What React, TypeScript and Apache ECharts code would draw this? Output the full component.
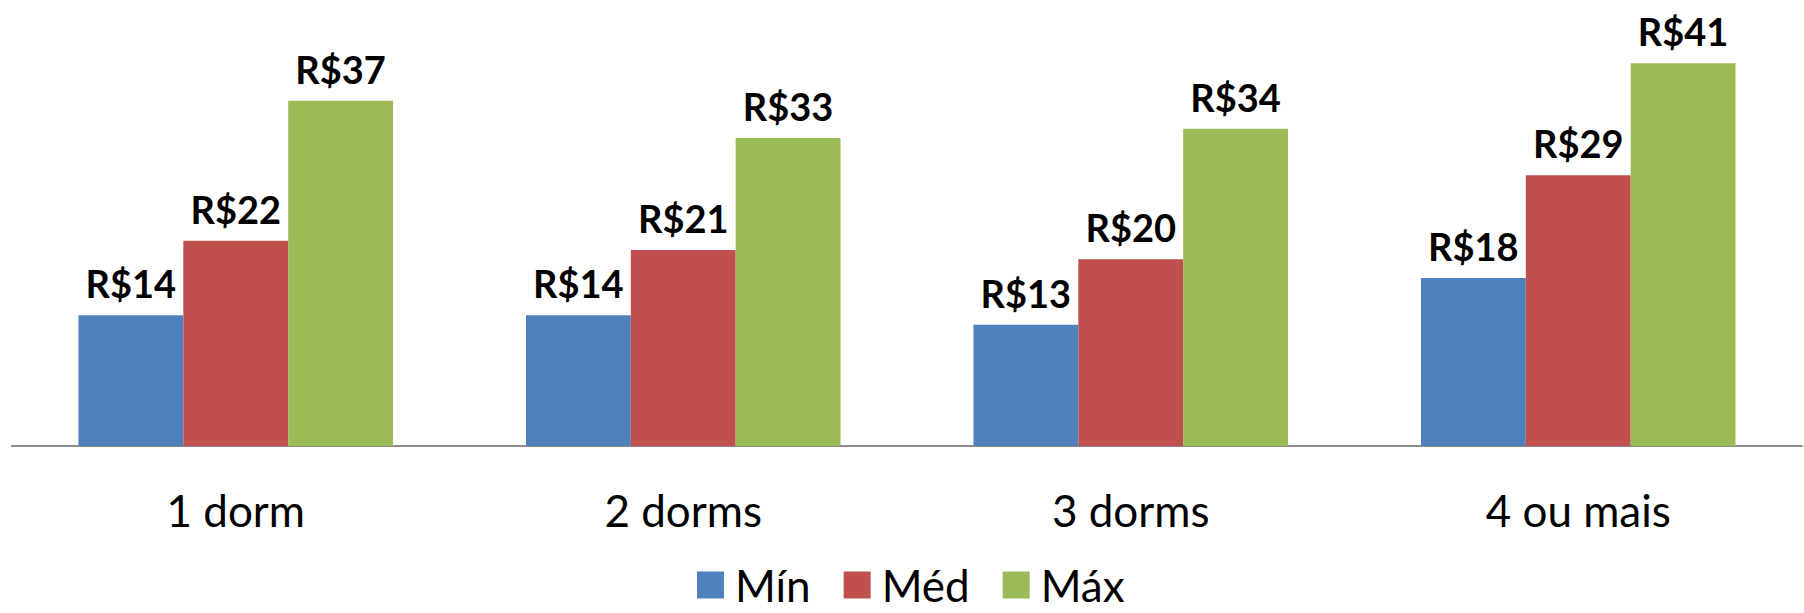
import React, { useEffect, useRef } from "react";
import * as echarts from "echarts";

const categories = ["1 dorm", "2 dorms", "3 dorms", "4 ou mais"];
const seriesNames = ["Mín", "Méd", "Máx"];
const minValues = [14, 14, 13, 18];
const medValues = [22, 21, 20, 29];
const maxValues = [37, 33, 34, 41];
const seriesColors = ["#4F81BD", "#C0504D", "#9BBB59"];

const FONT = "Lato, 'Open Sans', sans-serif";

export default function App() {
  const ref = useRef<HTMLDivElement>(null);

  useEffect(() => {
    if (!ref.current) return;
    const chart = echarts.init(ref.current, undefined, { renderer: "svg" });
    const values = [minValues, medValues, maxValues];

    chart.setOption({
      animation: false,
      backgroundColor: "#ffffff",
      textStyle: { fontFamily: FONT },
      grid: { left: 12, right: 2, top: 26, bottom: 167, containLabel: false },
      legend: {
        bottom: 1,
        left: 692,
        itemWidth: 27,
        itemHeight: 27,
        itemGap: 33,
        icon: "rect",
        textStyle: {
          fontFamily: FONT,
          fontSize: 44,
          lineHeight: 36,
          color: "#000000",
          padding: [0, 0, 0, 6],
        },
        data: seriesNames,
      },
      xAxis: {
        type: "category",
        data: categories,
        axisLine: { show: true, lineStyle: { color: "#8c8c8c", width: 2 } },
        axisTick: { show: false },
        axisLabel: {
          margin: 42,
          fontFamily: FONT,
          fontSize: 44,
          color: "#000000",
        },
      },
      yAxis: {
        type: "value",
        min: 0,
        max: 45,
        show: false,
        splitLine: { show: false },
      },
      series: seriesNames.map((name, i) => ({
        name,
        type: "bar",
        data: values[i],
        barGap: "0%",
        barCategoryGap: "29.7%",
        itemStyle: { color: seriesColors[i] },
        label: {
          show: true,
          position: "top",
          distance: 13,
          fontFamily: FONT,
          fontWeight: "bold",
          fontSize: 38,
          color: "#000000",
          formatter: (p: any) => "R$" + p.value,
        },
      })),
    });

    return () => chart.dispose();
  }, []);

  return (
    <div
      ref={ref}
      style={{ position: "fixed", left: 0, top: 0, width: 1804, height: 613 }}
    />
  );
}
